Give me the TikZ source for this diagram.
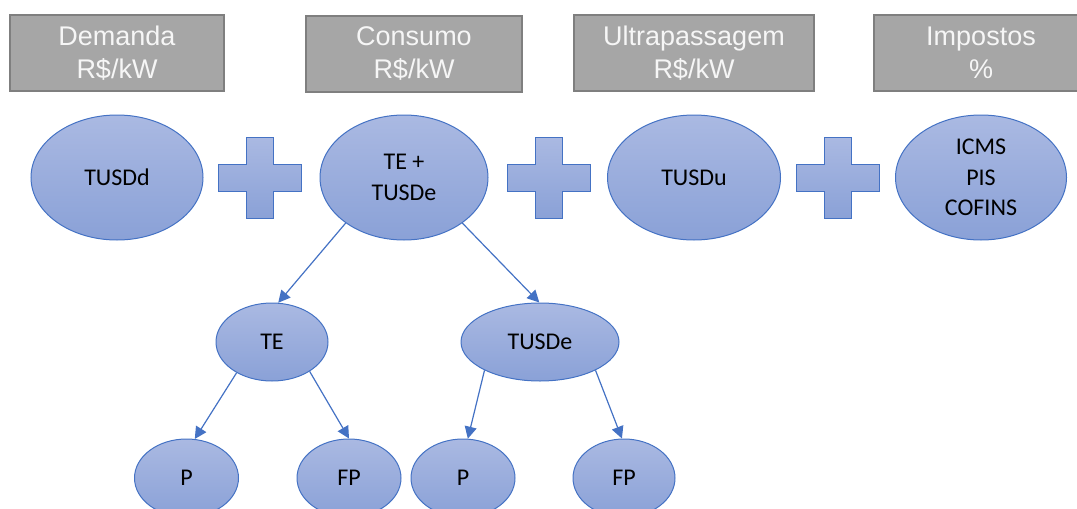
\documentclass[tikz,border=0pt]{standalone}
\usepackage{fontspec}
\setmainfont{Carlito}
\newfontfamily\arialfont{Liberation Sans}
\usetikzlibrary{shapes.geometric,arrows.meta}
\definecolor{boxfill}{RGB}{166,166,166}
\definecolor{boxline}{RGB}{127,127,127}
\definecolor{boxtext}{RGB}{246,246,246}
\definecolor{elltop}{RGB}{170,185,226}
\definecolor{ellbot}{RGB}{138,161,215}
\definecolor{accent}{RGB}{68,114,196}
\begin{document}
\begin{tikzpicture}[x=1pt,y=-1pt,
  header/.style={draw=boxline, line width=1.5pt, fill=boxfill, text=boxtext,
    font=\arialfont\fontsize{27}{33}\selectfont, align=center, inner sep=0pt,
    minimum height=76pt},
  oval/.style={ellipse, draw=accent, line width=1pt, top color=elltop,
    bottom color=ellbot, inner sep=0pt, align=center,
    font=\fontsize{24}{30.5}\selectfont},
  link/.style={draw=accent, line width=1.2pt, -{Triangle[length=12pt,width=12pt]}},
  plusshape/.style={draw=accent, line width=1pt, top color=elltop, bottom color=ellbot},
  plussign/.pic={\path[plusshape] (-13.5,-40.5) -- (13.5,-40.5) -- (13.5,-13.5)
    -- (41.5,-13.5) -- (41.5,13.5) -- (13.5,13.5) -- (13.5,40.5) -- (-13.5,40.5)
    -- (-13.5,13.5) -- (-41.5,13.5) -- (-41.5,-13.5) -- (-13.5,-13.5) -- cycle;}]
\useasboundingbox (0,0) rectangle (1077,509);
\clip (0,0) rectangle (1077,509);

% headers
\node[header, minimum width=214pt] (hdem) at (117,53) {Demanda\\R\$/kW};
\node[header, minimum width=216pt] (hcon) at (414,54) {Consumo\\R\$/kW};
\node[header, minimum width=240pt] (hult) at (694,53) {Ultrapassagem\\R\$/kW};
\node[header, minimum width=214pt] (himp) at (981,53) {Impostos\\\%};

% top row
\node[oval, minimum width=172pt, minimum height=125pt] (tusdd) at (117,177.5) {TUSDd};
\node[oval, minimum width=168pt, minimum height=125pt] (tet) at (404,177.5) {TE +\\TUSDe};
\node[oval, minimum width=173pt, minimum height=125pt] (tusdu) at (694,177.5) {TUSDu};
\node[oval, minimum width=171pt, minimum height=125pt] (imp) at (981,177.5) {ICMS\\PIS\\COFINS};

\pic at (260,177.5) {plussign};
\pic at (549,177.5) {plussign};
\pic at (838,177.5) {plussign};

% second row
\node[oval, minimum width=112pt, minimum height=78pt] (te) at (272,342) {TE};
\node[oval, minimum width=158pt, minimum height=78pt] (tusde) at (540,342) {TUSDe};

% third row
\node[oval, minimum width=104pt, minimum height=78pt] (p1) at (186.5,478) {P};
\node[oval, minimum width=104pt, minimum height=78pt] (fp1) at (349,478) {FP};
\node[oval, minimum width=104pt, minimum height=78pt] (p2) at (463,478) {P};
\node[oval, minimum width=102pt, minimum height=78pt] (fp2) at (624,478) {FP};

% connectors
\draw[link] (tet.218) -- (te.81);
\draw[link] (tet.322) -- (tusde.91);
\draw[link] (te.221) -- (p1.78);
\draw[link] (te.322) -- (fp1.90);
\draw[link] (tusde.207) -- (p2.83);
\draw[link] (tusde.333) -- (fp2.93);
\end{tikzpicture}
\end{document}
